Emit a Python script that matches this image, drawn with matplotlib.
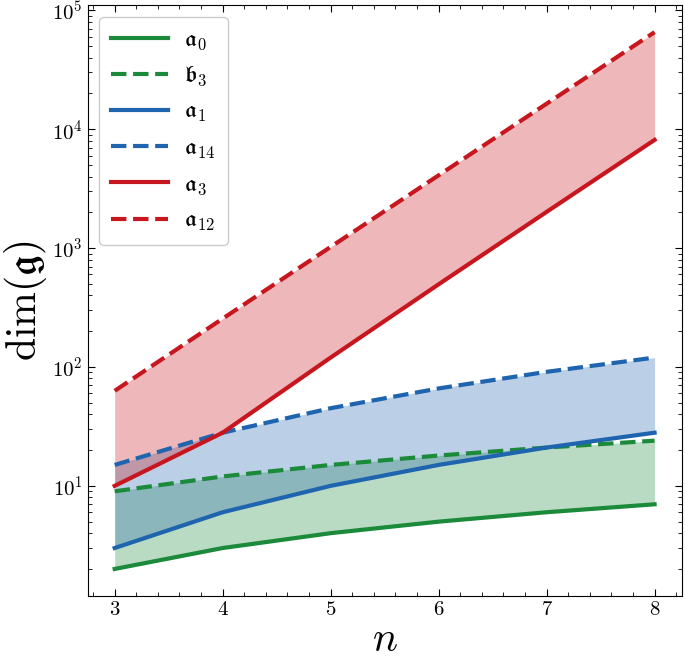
import matplotlib
matplotlib.use("Agg")
import matplotlib.pyplot as plt

# Lie-algebra dimensions vs system size n
n = [3, 4, 5, 6, 7, 8]
dim_a0 = [2, 3, 4, 5, 6, 7]
dim_b3 = [9, 12, 15, 18, 21, 24]
dim_a1 = [3, 6, 10, 15, 21, 28]
dim_a14 = [15, 28, 45, 66, 91, 120]
dim_a3 = [10, 28, 120, 496, 2016, 8128]
dim_a12 = [63, 255, 1023, 4095, 16383, 65535]

GREEN = "#1b8a3a"
BLUE = "#1f64ae"
RED = "#c8161e"

plt.rcParams.update({
    "font.family": "serif",
    "font.serif": ["cmr10"],
    "mathtext.fontset": "cm",
    "axes.formatter.use_mathtext": True,
    "xtick.direction": "in", "ytick.direction": "in",
    "xtick.top": True, "ytick.right": True,
    "xtick.minor.visible": True, "ytick.minor.visible": True,
    "xtick.major.size": 5, "ytick.major.size": 5,
    "xtick.minor.size": 3, "ytick.minor.size": 3,
    "xtick.labelsize": 15, "ytick.labelsize": 15,
})

fig = plt.figure(figsize=(6.85, 6.62), dpi=100)
ax = fig.add_axes([0.128, 0.100, 0.867, 0.892])

ax.fill_between(n, dim_a0, dim_b3, color=GREEN, alpha=0.3, lw=0)
ax.fill_between(n, dim_a1, dim_a14, color=BLUE, alpha=0.3, lw=0)
ax.fill_between(n, dim_a3, dim_a12, color=RED, alpha=0.3, lw=0)

ax.plot(n, dim_a0, color=GREEN, lw=3, label=r"$\mathfrak{a}_0$")
ax.plot(n, dim_b3, color=GREEN, lw=3, ls="--", label=r"$\mathfrak{b}_3$")
ax.plot(n, dim_a1, color=BLUE, lw=3, label=r"$\mathfrak{a}_1$")
ax.plot(n, dim_a14, color=BLUE, lw=3, ls="--", label=r"$\mathfrak{a}_{14}$")
ax.plot(n, dim_a3, color=RED, lw=3, label=r"$\mathfrak{a}_3$")
ax.plot(n, dim_a12, color=RED, lw=3, ls="--", label=r"$\mathfrak{a}_{12}$")

ax.set_yscale("log")
ax.set_xticks(n)
ax.set_xlabel(r"$n$", fontsize=30, labelpad=2)
ax.set_ylabel(r"$\dim(\mathfrak{g})$", fontsize=30, labelpad=2)

ax.legend(loc="upper left", fontsize=17, handlelength=2.4,
          labelspacing=0.55, borderpad=0.5, handletextpad=0.7,
          framealpha=1, edgecolor="#cccccc", fancybox=True)

fig.savefig("out.png", dpi=100)
